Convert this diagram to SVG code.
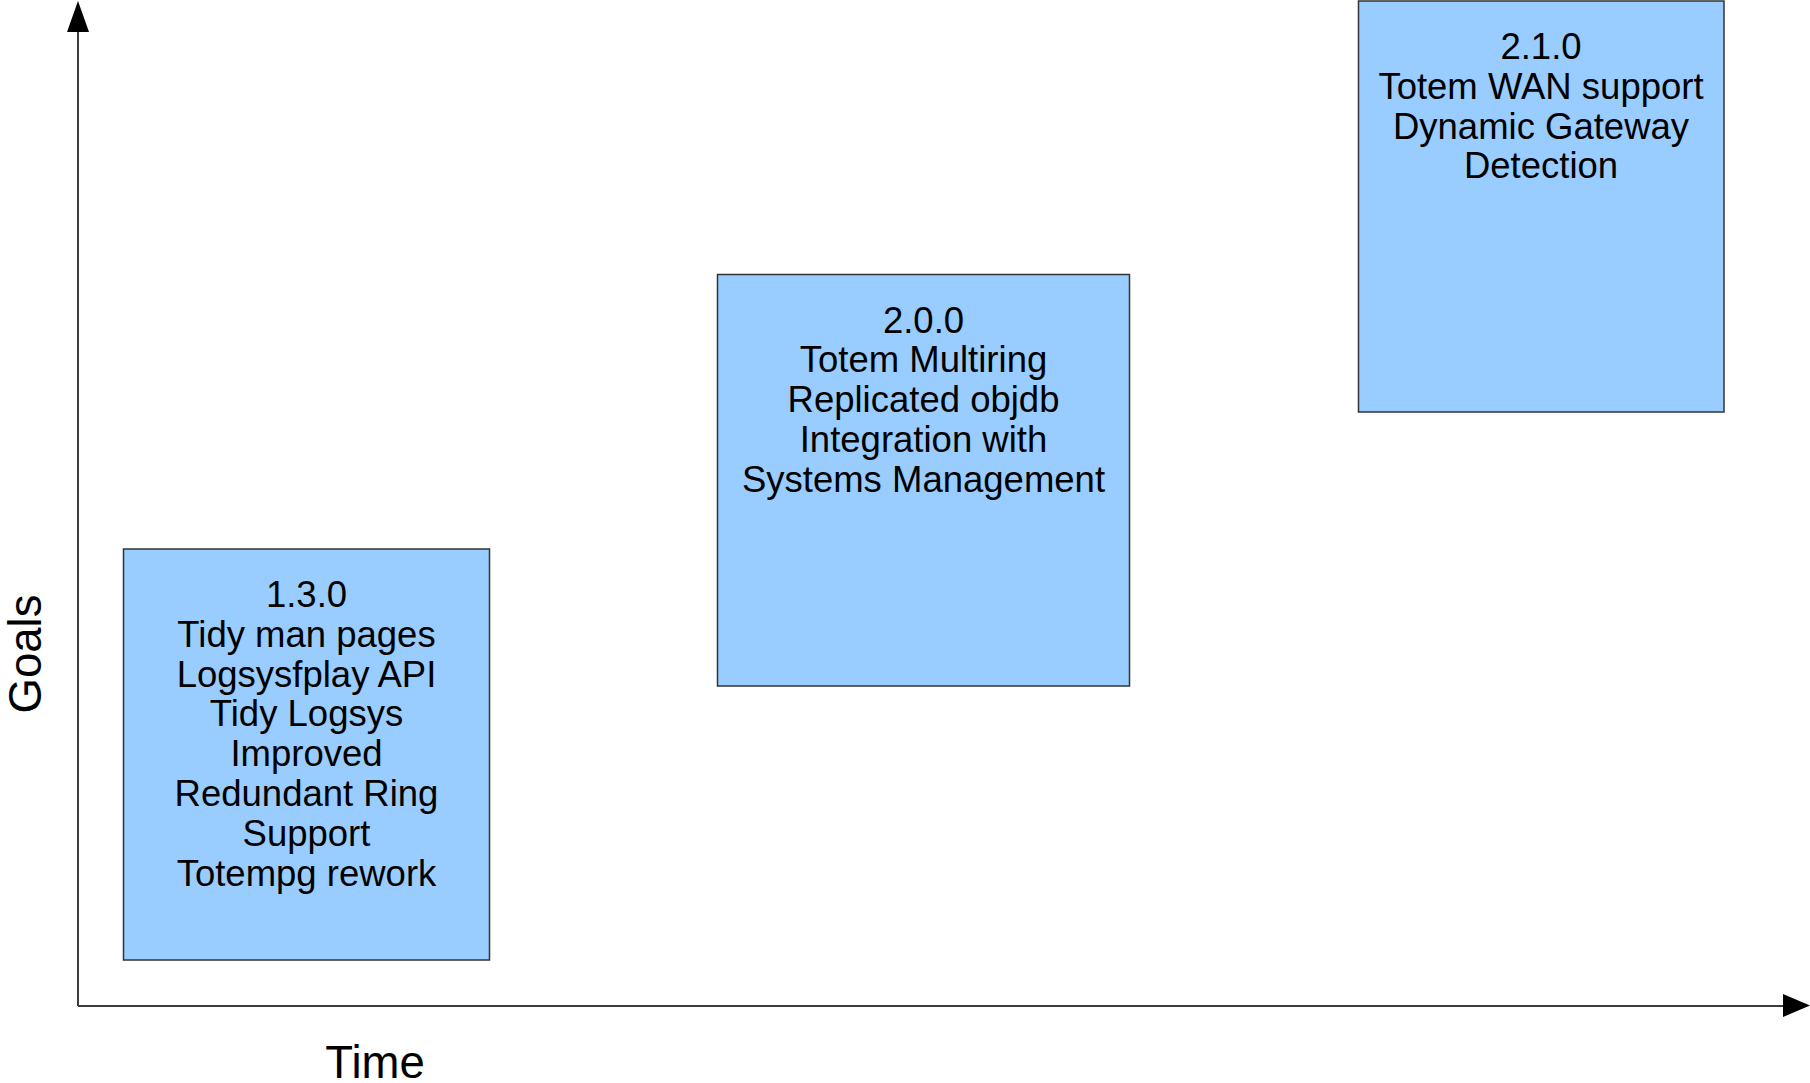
<svg xmlns="http://www.w3.org/2000/svg" width="1810" height="1083" viewBox="0 0 1810 1083">
<style>
.box{fill:#99ccff;stroke:#333333;stroke-width:1.5}
.t{font-family:"Liberation Sans",Arial,sans-serif;font-size:36.5px;fill:#000;text-anchor:middle}
.lbl{font-family:"Liberation Sans",Arial,sans-serif;font-size:45.5px;fill:#000;text-anchor:middle}
.axis{stroke:#3c3c3c;stroke-width:2;fill:none}
</style>
<rect width="1810" height="1083" fill="#ffffff"/>
<g id="connectors">
<line class="axis" x1="78" y1="1006" x2="78" y2="30"/>
<polygon points="78,1 67,32 89,32" fill="#000"/>
<line class="axis" x1="78" y1="1006" x2="1784" y2="1006"/>
<polygon points="1810,1005.5 1783,994 1783,1017" fill="#000"/>
</g>
<g id="node-130">
<rect class="box" x="123.5" y="549" width="366" height="411"/>
<text class="t" x="306.5" y="607">1.3.0</text>
<text class="t" x="306.5" y="646.8">Tidy man pages</text>
<text class="t" x="306.5" y="686.6">Logsysfplay API</text>
<text class="t" x="306.5" y="726.4">Tidy Logsys</text>
<text class="t" x="306.5" y="766.2">Improved </text>
<text class="t" x="306.5" y="806">Redundant Ring</text>
<text class="t" x="306.5" y="845.8">Support</text>
<text class="t" x="306.5" y="885.6">Totempg rework</text>
</g>
<g id="node-200">
<rect class="box" x="717.5" y="274.5" width="412" height="411.5"/>
<text class="t" x="923.5" y="332.5">2.0.0</text>
<text class="t" x="923.5" y="372.3">Totem Multiring</text>
<text class="t" x="923.5" y="412.1">Replicated objdb</text>
<text class="t" x="923.5" y="451.9">Integration with</text>
<text class="t" x="923.5" y="491.7">Systems Management</text>
</g>
<g id="node-210">
<rect class="box" x="1358.5" y="1" width="365.5" height="411"/>
<text class="t" x="1541" y="59.3">2.1.0</text>
<text class="t" x="1541" y="99">Totem WAN support</text>
<text class="t" x="1541" y="138.7">Dynamic Gateway</text>
<text class="t" x="1541" y="178.4">Detection</text>
</g>
<g id="labels">
<text class="lbl" x="375" y="1078">Time</text>
<text class="lbl" transform="translate(41,654) rotate(-90)">Goals</text>
</g>
</svg>
